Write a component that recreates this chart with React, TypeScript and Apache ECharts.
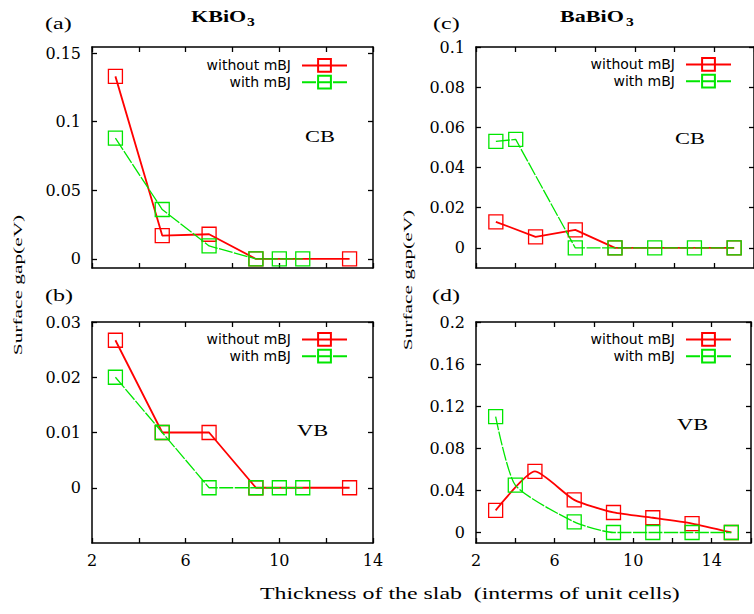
import React, { useEffect, useRef } from "react";
import * as echarts from "echarts";

// ---------- data ----------
// (a) KBiO3, CB
const A_X_WITHOUT = [3, 5, 7, 9, 13];
const A_Y_WITHOUT = [0.133, 0.017, 0.018, 0, 0];
const A_X_WITH = [3, 5, 7, 9, 10, 11];
const A_Y_WITH = [0.088, 0.036, 0.0095, 0, 0, 0];
// (b) KBiO3, VB
const B_X_WITHOUT = [3, 5, 7, 9, 13];
const B_Y_WITHOUT = [0.0267, 0.01, 0.01, 0, 0];
const B_X_WITH = [3, 5, 7, 9, 10, 11];
const B_Y_WITH = [0.02, 0.01, 0, 0, 0, 0];
// (c) BaBiO3, CB
const C_X_WITHOUT = [3, 5, 7, 9, 15];
const C_Y_WITHOUT = [0.013, 0.0055, 0.009, 0, 0];
const C_X_WITH = [3, 4, 7, 9, 11, 13, 15];
const C_Y_WITH = [0.053, 0.054, 0, 0, 0, 0, 0];
// (d) BaBiO3, VB
const D_X_WITHOUT = [3, 5, 7, 9, 11, 13, 15];
const D_Y_WITHOUT = [0.021, 0.058, 0.031, 0.019, 0.014, 0.0085, 0];
const D_X_WITH = [3, 4, 7, 9, 11, 13, 15];
const D_Y_WITH = [0.11, 0.045, 0.01, 0, 0, 0, 0];

// tick labels
const A_Y_TICKS = [0, 0.05, 0.1, 0.15];
const B_Y_TICKS = [0, 0.01, 0.02, 0.03];
const C_Y_TICKS = [0, 0.02, 0.04, 0.06, 0.08, 0.1];
const D_Y_TICKS = [0, 0.04, 0.08, 0.12, 0.16, 0.2];
const X_LABELS = [2, 6, 10, 14];

const NAME_WITHOUT = "without mBJ";
const NAME_WITH = "with mBJ";
const RED = "#ff0000";
const GREEN = "#00e600";

function pairs(xs: number[], ys: number[]) {
  return xs.map((x, i) => [x, ys[i]]);
}

export default function App() {
  const ref = useRef<HTMLDivElement>(null);
  useEffect(() => {
    if (!ref.current) return;
    const chart = echarts.init(ref.current, null, { renderer: "svg" });

    const grids = [
      { left: 92, top: 47, width: 281, height: 221 },
      { left: 92, top: 322, width: 281, height: 221 },
      { left: 476, top: 47, width: 281, height: 221 },
      { left: 476, top: 322, width: 281, height: 221 },
    ];
    const panels = [
      { xmax: 14, ymin: -0.0066, ymax: 0.1544, yt: A_Y_TICKS, xl: false },
      { xmax: 14, ymin: -0.01, ymax: 0.03, yt: B_Y_TICKS, xl: true },
      { xmax: 16, ymin: -0.01, ymax: 0.1, yt: C_Y_TICKS, xl: false },
      { xmax: 16, ymin: -0.01, ymax: 0.2, yt: D_Y_TICKS, xl: true },
    ];
    const seriesData = [
      [pairs(A_X_WITHOUT, A_Y_WITHOUT), pairs(A_X_WITH, A_Y_WITH)],
      [pairs(B_X_WITHOUT, B_Y_WITHOUT), pairs(B_X_WITH, B_Y_WITH)],
      [pairs(C_X_WITHOUT, C_Y_WITHOUT), pairs(C_X_WITH, C_Y_WITH)],
      [pairs(D_X_WITHOUT, D_Y_WITHOUT), pairs(D_X_WITH, D_Y_WITH)],
    ];

    const tick = { show: true, inside: true, length: 5, lineStyle: { color: "#000", width: 1.3 } };
    const axisLine = { show: true, onZero: false, lineStyle: { color: "#000", width: 1.5 } };
    const labelFont = { fontFamily: "DejaVu Serif", fontSize: 16, color: "#000" };
    const fmt = (v: number) => String(Number(v.toFixed(4)));

    const xAxis: any[] = [];
    const yAxis: any[] = [];
    panels.forEach((p, g) => {
      xAxis.push({
        type: "value", gridIndex: g, position: "bottom", min: 2, max: p.xmax, interval: 2,
        axisLine, splitLine: { show: false }, axisTick: tick,
        axisLabel: {
          show: p.xl, margin: 9, ...labelFont,
          formatter: (v: number) => (X_LABELS.indexOf(v) >= 0 ? String(v) : ""),
        },
      });
      xAxis.push({
        type: "value", gridIndex: g, position: "top", min: 2, max: p.xmax, interval: 2,
        axisLine, splitLine: { show: false }, axisTick: tick,
        axisLabel: { show: false },
      });
      yAxis.push({
        type: "value", gridIndex: g, position: "left", min: p.ymin, max: p.ymax,
        axisLine, splitLine: { show: false },
        axisTick: { ...tick, customValues: p.yt },
        axisLabel: { ...labelFont, margin: 11, customValues: p.yt, formatter: fmt },
      });
      yAxis.push({
        type: "value", gridIndex: g, position: "right", min: p.ymin, max: p.ymax,
        axisLine, splitLine: { show: false },
        axisTick: { ...tick, customValues: p.yt },
        axisLabel: { show: false, customValues: p.yt },
      });
    });

    const series: any[] = [];
    seriesData.forEach((pair, g) => {
      const smooth = g === 3 ? 0.2 : false;
      series.push({
        type: "line", name: NAME_WITHOUT, xAxisIndex: g * 2, yAxisIndex: g * 2,
        data: pair[0], symbol: "rect", symbolSize: 14, smooth, z: 2,
        lineStyle: { color: RED, width: 1.8 },
        itemStyle: { color: "rgba(0,0,0,0)", borderColor: RED, borderWidth: 1.3 },
        emphasis: { disabled: true },
      });
      series.push({
        type: "line", name: NAME_WITH, xAxisIndex: g * 2, yAxisIndex: g * 2,
        data: pair[1], symbol: "rect", symbolSize: 14, smooth, z: 3,
        lineStyle: { color: GREEN, width: 1.3, type: [14, 1.5] },
        itemStyle: { color: "rgba(0,0,0,0)", borderColor: GREEN, borderWidth: 1.3 },
        emphasis: { disabled: true },
      });
    });

    const legendPos = [
      { right: 401, top: 53 },
      { right: 401, top: 327 },
      { right: 17, top: 52 },
      { right: 17, top: 327 },
    ];
    const legend = legendPos.map((lp) => ({
      ...lp,
      orient: "vertical",
      align: "right",
      itemWidth: 45,
      itemHeight: 16,
      itemGap: 2,
      selectedMode: false,
      data: [NAME_WITHOUT, NAME_WITH],
      textStyle: { fontFamily: "DejaVu Sans", fontSize: 14, color: "#000", padding: [0, 6, 0, 0] },
    }));

    const txt = (text: string, x: number, y: number, font: string, sx: number) => ({
      type: "text", x, y, scaleX: sx, silent: true,
      style: { text, font, fill: "#000", textAlign: "left", textVerticalAlign: "middle" },
    });
    const serifBold = "bold 17px 'Liberation Serif'";
    const serif = "16px 'Liberation Serif'";
    const yTitle = (x: number, y: number) => ({
      type: "text", x, y, rotation: Math.PI / 2, scaleX: 1.78, silent: true,
      style: { text: "Surface gap(eV)", font: "12px 'Liberation Serif'", fill: "#000", textAlign: "center", textVerticalAlign: "middle" },
    });
    const graphic: any[] = [
      txt("KBiO", 191, 16, serifBold, 1.3),
      txt("3", 247, 22, "bold 12px 'Liberation Serif'", 1.3),
      txt("BaBiO", 560, 16, serifBold, 1.3),
      txt("3", 626, 22, "bold 12px 'Liberation Serif'", 1.3),
      txt("(a)", 45, 24, serif, 1.5),
      txt("(c)", 433, 24, serif, 1.5),
      txt("(b)", 45, 296, serif, 1.5),
      txt("(d)", 432, 296, serif, 1.5),
      txt("CB", 305, 137, serif, 1.4),
      txt("CB", 675, 139, serif, 1.4),
      txt("VB", 297, 431, serif, 1.4),
      txt("VB", 677, 425, serif, 1.4),
      txt("Thickness of the slab  (interms of unit cells)", 260, 593, serif, 1.49),
      yTitle(18, 285),
      yTitle(408, 280),
    ];

    chart.setOption({
      animation: false,
      backgroundColor: "#fff",
      grid: grids.map((g) => ({ ...g, show: false })),
      xAxis,
      yAxis,
      legend,
      series,
      graphic,
    });
    return () => chart.dispose();
  }, []);
  return (
    <div
      ref={ref}
      style={{ position: "fixed", left: 0, top: 0, width: 754, height: 614, background: "#fff" }}
    />
  );
}
